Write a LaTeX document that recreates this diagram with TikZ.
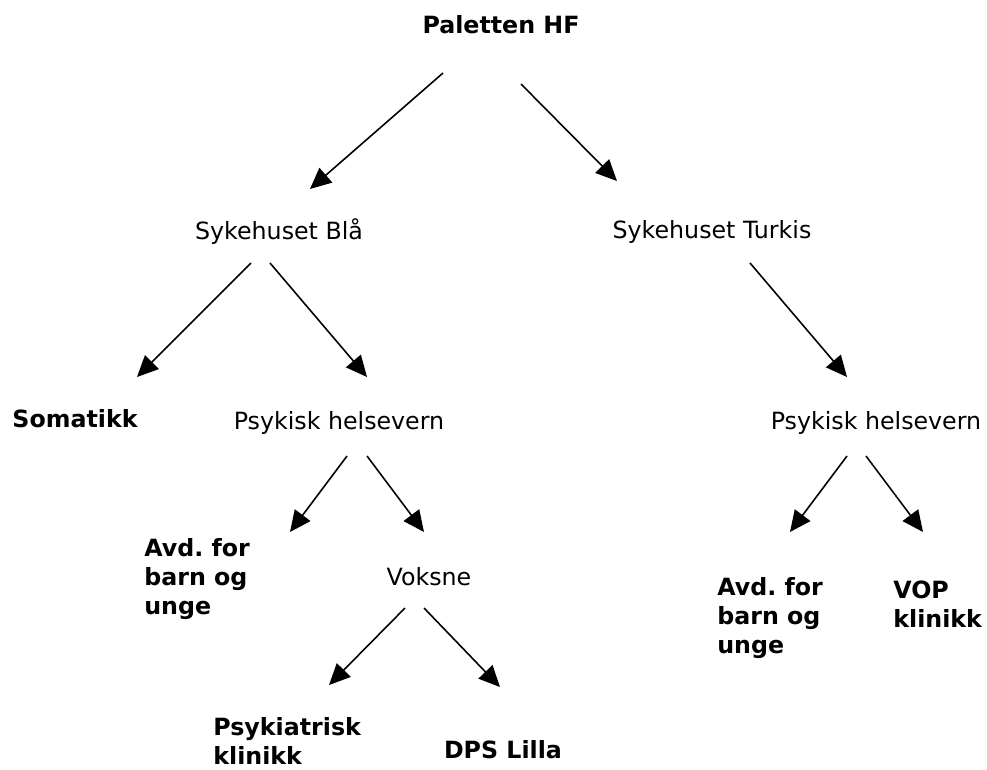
\documentclass[tikz,border=0pt]{standalone}
\usepackage{fontspec}
\setmainfont{DejaVu Sans}
\frenchspacing
\usetikzlibrary{arrows.meta}

\begin{document}
\begin{tikzpicture}[x=0.02cm, y=-0.02cm,
        unit/.style={inner sep=0pt, font=\fontsize{13.5}{16.5}\selectfont},
        leaf/.style={unit, font=\fontsize{13.5}{16.5}\selectfont\bfseries, align=left},
        arr/.style={-{Triangle[length=12pt, width=11pt]}, line width=0.9pt}]
        \useasboundingbox (0, 0) rectangle (987, 769);

        \node[leaf] at (501, 25)  (hf)     {Paletten HF};
        \node[unit] at (279, 232) (blaa)   {Sykehuset Blå};
        \node[unit] at (712, 232) (turkis) {Sykehuset Turkis};

        \node[leaf] at (75, 419)  (somatikk) {Somatikk};
        \node[unit] at (339, 423) (psykA)    {Psykisk helsevern};
        \node[unit] at (876, 423) (psykB)    {Psykisk helsevern};

        \node[leaf, anchor=west] at (144, 579) (barnA)  {Avd. for\\barn og\\unge};
        \node[unit] at (429, 577)              (voksne) {Voksne};
        \node[leaf, anchor=west] at (717, 618) (barnB)  {Avd. for\\barn og\\unge};
        \node[leaf, anchor=west] at (893, 604) (vop)    {VOP\\klinikk};

        \node[leaf, anchor=west] at (213, 741) (psykiatrisk) {Psykiatrisk\\klinikk};
        \node[leaf] at (503, 750)              (dps)         {DPS Lilla};

        % draw arrows
        \draw[arr] ([shift={(-58, 48)}]hf.center) -- ([shift={(31, -43)}]blaa.center);
        \draw[arr] ([shift={(20, 59)}]hf.center)  -- ([shift={(-95, -51)}]turkis.center);

        \draw[arr] ([shift={(-28, 31)}]blaa.center) -- ([shift={(62, -42)}]somatikk.center);
        \draw[arr] ([shift={(-9, 31)}]blaa.center)  -- ([shift={(28, -46)}]psykA.center);
        \draw[arr] ([shift={(38, 31)}]turkis.center) -- ([shift={(-29, -46)}]psykB.center);

        \draw[arr] ([shift={(8, 33)}]psykA.center)  -- ([shift={(146, -47)}]barnA.west);
        \draw[arr] ([shift={(28, 33)}]psykA.center) -- ([shift={(-5, -45)}]voksne.center);

        \draw[arr] ([shift={(-24, 31)}]voksne.center) -- ([shift={(116, -56)}]psykiatrisk.west);
        \draw[arr] ([shift={(-5, 31)}]voksne.center)  -- ([shift={(-3, -63)}]dps.center);

        \draw[arr] ([shift={(-29, 33)}]psykB.center) -- ([shift={(73, -86)}]barnB.west);
        \draw[arr] ([shift={(-10, 33)}]psykB.center) -- ([shift={(30, -72)}]vop.west);

    \end{tikzpicture}
\end{document}
